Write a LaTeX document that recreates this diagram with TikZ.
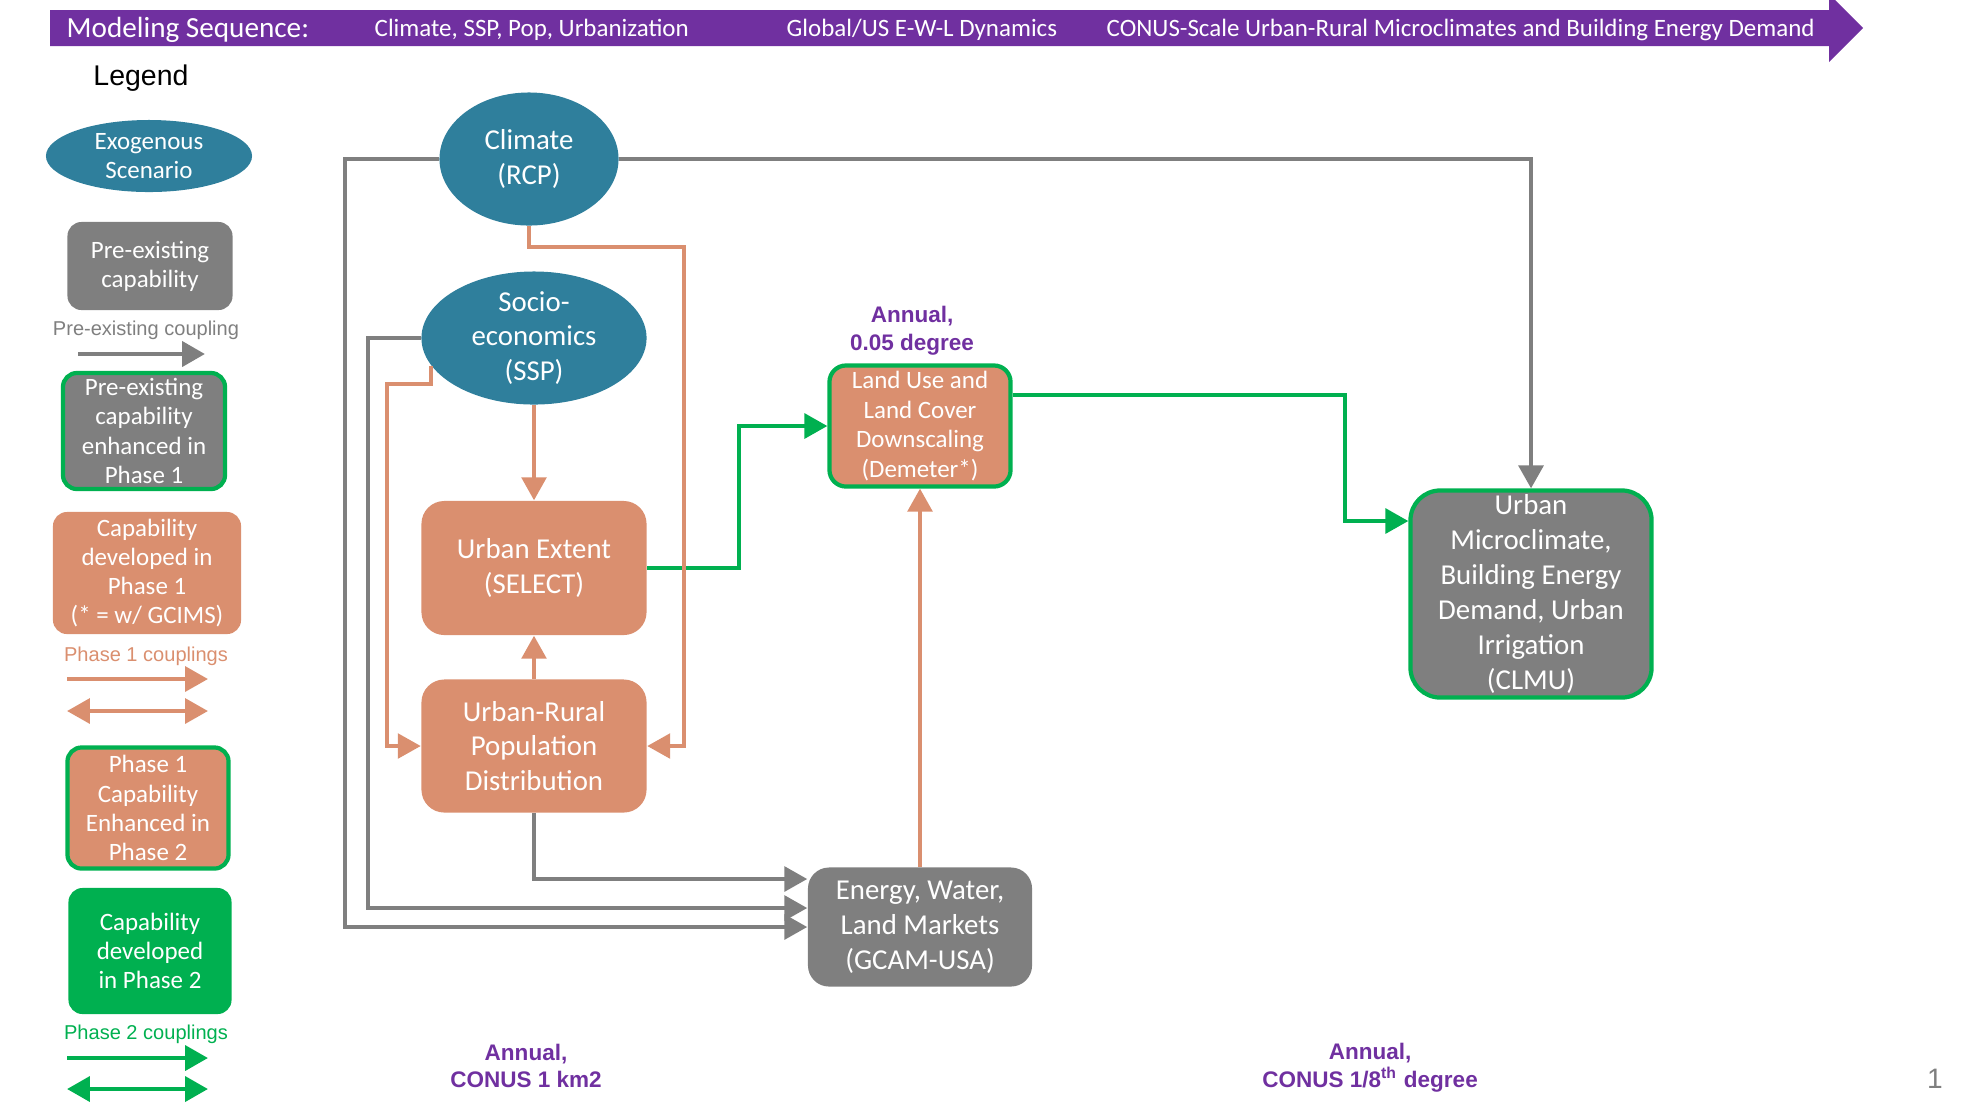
\documentclass[tikz,border=0pt]{standalone}
\usepackage{fontspec}
\setmainfont{Carlito}
\newfontfamily\arialfont{Liberation Sans}
\usetikzlibrary{shapes.geometric,arrows.meta,calc}
\definecolor{seqpurple}{HTML}{7030A0}
\definecolor{exoteal}{HTML}{2F7F9C}
\definecolor{pregray}{HTML}{7F7F7F}
\definecolor{phaseorange}{HTML}{DA8F6F}
\definecolor{phasegreen}{HTML}{00B050}

\begin{document}
\begin{tikzpicture}[x=0.01cm, y=-0.01cm,
    >={Triangle[length=6.5pt,width=7pt]},
    font=\fontsize{8.2}{9.9}\selectfont,
    exo/.style={ellipse, fill=exoteal, inner sep=0pt},
    mdl/.style={rectangle, rounded corners=6.5pt, text=white, align=center, inner sep=0pt},
    lgd/.style={mdl, rounded corners=4pt, font=\fontsize{7.1}{8.3}\selectfont},
    preexist/.style={fill=pregray},
    phaseone/.style={fill=phaseorange},
    phasetwo/.style={fill=phasegreen},
    enhanced/.style={draw=phasegreen, line width=1.2pt},
    gcpl/.style={->, draw=pregray, line width=1.15pt},
    ocpl/.style={->, draw=phaseorange, line width=1pt},
    ncpl/.style={->, draw=phasegreen, line width=1.15pt},
    resnote/.style={text=seqpurple, align=center, font=\arialfont\bfseries\fontsize{6.4}{7.9}\selectfont},
    cplnote/.style={font=\arialfont\fontsize{5.7}{6.5}\selectfont},
    seqtext/.style={text=white, anchor=west, inner xsep=0pt, font=\fontsize{7.1}{8}\selectfont}]
  \useasboundingbox (0,0) rectangle (1980,1114);

  % modeling sequence banner
  \fill[seqpurple] (50,10) -- (1829,10) -- (1829,-6) -- (1863,28) -- (1829,62) -- (1829,46) -- (50,46) -- cycle;
  \node[seqtext, font=\fontsize{8.3}{9}\selectfont] (seqhd) at (66,30) {Modeling Sequence:};
  \node[seqtext] (seqa) at (374,30) {Climate, SSP, Pop, Urbanization};
  \node[seqtext] (seqb) at (786,30) {Global/US E-W-L Dynamics};
  \node[seqtext] (seqc) at (1106,30) {CONUS-Scale Urban-Rural Microclimates and Building Energy Demand};

  % legend
  \node[font=\arialfont\fontsize{8.1}{9}\selectfont] (lgdhd) at (141,78) {Legend};
  \node[exo, minimum width=2.06cm, minimum height=0.72cm,
        label={[text=white, align=center, font=\fontsize{7.1}{8.3}\selectfont]center:Exogenous\\Scenario}] (lexo) at (149,156) {};
  \node[lgd, preexist, minimum width=1.65cm, minimum height=0.88cm] (lpre) at (150,266) {Pre-existing\\capability};
  \node[cplnote, text=pregray] (lprecpl) at (146,330) {Pre-existing coupling};
  \coordinate (lpa) at (78,354);
  \coordinate (lpb) at (205,354);
  \draw[gcpl, line width=1.4pt] (lpa) -- (lpb);
  \node[lgd, preexist, enhanced, minimum width=1.62cm, minimum height=1.16cm] (lpreone) at (144,431) {Pre-existing\\capability\\enhanced in\\Phase 1};
  \node[lgd, phaseone, minimum width=1.88cm, minimum height=1.22cm] (lone) at (147,573) {Capability\\developed in\\Phase 1\\(* = w/ GCIMS)};
  \node[cplnote, text=phaseorange] (lonecpl) at (146,656) {Phase 1 couplings};
  \coordinate (loa) at (67,679);
  \coordinate (lob) at (208,679);
  \coordinate (loc) at (67,711);
  \coordinate (lod) at (208,711);
  \draw[ocpl, line width=1.2pt] (loa) -- (lob);
  \draw[ocpl, <->, line width=1.2pt] (loc) -- (lod);
  \node[lgd, phaseone, enhanced, minimum width=1.61cm, minimum height=1.21cm] (lonetwo) at (148,808) {Phase 1\\Capability\\Enhanced in\\Phase 2};
  \node[lgd, phasetwo, minimum width=1.63cm, minimum height=1.26cm] (ltwo) at (150,951) {Capability\\developed\\in Phase 2};
  \node[cplnote, text=phasegreen] (ltwocpl) at (146,1034) {Phase 2 couplings};
  \coordinate (lta) at (67,1058);
  \coordinate (ltb) at (208,1058);
  \coordinate (ltc) at (67,1089);
  \coordinate (ltd) at (208,1089);
  \draw[ncpl, line width=1.3pt] (lta) -- (ltb);
  \draw[ncpl, <->, line width=1.3pt] (ltc) -- (ltd);

  % models
  \node[exo, minimum width=1.79cm, minimum height=1.33cm,
        label={[text=white, align=center]center:Climate\\(RCP)}] (clim) at (529,159) {};
  \node[exo, minimum width=2.25cm, minimum height=1.33cm,
        label={[text=white, align=center]center:Socio-\\economics\\(SSP)}] (soc) at (534,338) {};
  \node[mdl, phaseone, minimum width=2.25cm, minimum height=1.34cm] (uex) at (534,568) {Urban Extent\\(SELECT)};
  \node[mdl, phaseone, minimum width=2.25cm, minimum height=1.33cm] (urp) at (534,746) {Urban-Rural\\Population\\Distribution};
  \node[mdl, phaseone, enhanced, rounded corners=4.7pt, minimum width=1.81cm, minimum height=1.21cm,
        font=\fontsize{7.1}{8.5}\selectfont] (luc) at (920,426) {Land Use and\\Land Cover\\Downscaling\\(Demeter*)};
  \node[mdl, preexist, rounded corners=6pt, minimum width=2.24cm, minimum height=1.19cm] (egy) at (920,927) {Energy, Water,\\Land Markets\\(GCAM-USA)};
  \node[mdl, preexist, enhanced, rounded corners=8.5pt, minimum width=2.41cm, minimum height=2.07cm] (umc) at (1531,594) {Urban\\Microclimate,\\Building Energy\\Demand, Urban\\Irrigation\\(CLMU)};

  % resolutions
  \node[resnote] (resluc) at (912,331) {Annual,\\0.05 degree};
  \node[resnote] (reskm) at (526,1066) {Annual,\\CONUS 1 km2};
  \node[resnote] (resdeg) at (1370,1068) {Annual,\\CONUS 1/8\textsuperscript{th} degree};
  \node[text=pregray, font=\arialfont\fontsize{8}{9}\selectfont] (pgno) at (1935,1079) {1};

  % pre-existing couplings
  \draw[gcpl] (clim.west) -- ++(-94,0) |- (egy.west);
  \draw[gcpl] (soc.west) -- ++(-53,0) |- ($(egy.west)+(0,-19)$);
  \draw[gcpl] (urp.south) |- ($(egy.west)+(0,-48)$);
  \draw[gcpl] (clim.east) -| (umc.north);

  % phase 2 couplings
  \draw[ncpl] (uex.east) -- ++(92,0) |- (luc.west);
  \draw[ncpl] ($(luc.east)+(0,-31)$) -- ++(332,0) |- ($(umc.west)+(0,-73)$);

  % phase 1 couplings
  \draw[ocpl] (clim.south) |- (684,247) |- (urp.east);
  \draw[ocpl] (soc.195) |- (387,384) |- (urp.west);
  \draw[ocpl] (soc.south) -- (uex.north);
  \draw[ocpl] (urp.north) -- (uex.south);
  \draw[ocpl] (egy.north) -- (luc.south);
\end{tikzpicture}
\end{document}
